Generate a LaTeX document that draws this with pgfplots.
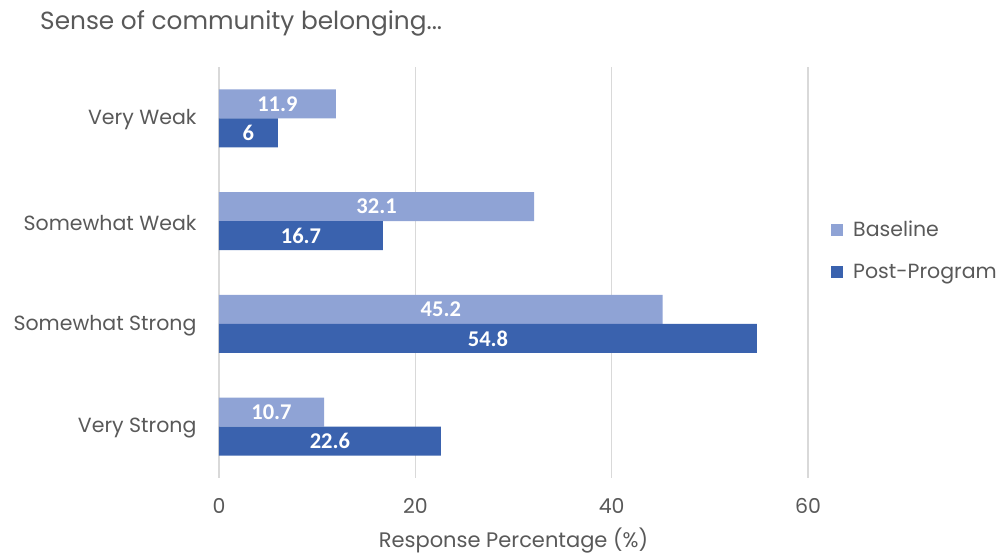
\documentclass[border=0pt]{standalone}
\usepackage{fontspec}
\setmainfont{Poppins}
\newfontfamily\labelfont{Carlito}
\usepackage{pgfplots}
\pgfplotsset{compat=1.18}
\definecolor{txt}{HTML}{595959}
\definecolor{gridc}{HTML}{D9D9D9}
\definecolor{base}{HTML}{8FA3D5}
\definecolor{post}{HTML}{3A62AE}
\begin{document}
\begin{tikzpicture}
\path[use as bounding box] (0pt,0pt) rectangle (999pt,556pt);
\node[anchor=west, text=txt, font=\fontsize{24.8}{28}\selectfont, inner sep=0pt] at (40pt,533pt) {Sense of community belonging...};
\begin{axis}[
  at={(219pt,78pt)}, anchor=south west,
  scale only axis, width=589pt, height=411pt,
  xmin=0, xmax=60, ymin=-0.5, ymax=3.5,
  xtick={0,20,40,60},
  ytick={0,1,2,3},
  yticklabels={Very Strong,Somewhat Strong,Somewhat Weak,Very Weak},
  axis line style={draw=none},
  major tick length=0pt,
  xmajorgrids, major grid style={gridc, line width=1.2pt},
  tick label style={text=txt, font=\fontsize{20.5}{24}\selectfont},
  /pgf/number format/assume math mode=true,
  xticklabel style={yshift=-17pt},
  yticklabel style={xshift=-19pt, yshift=-1.5pt},
  xlabel={Response Percentage (\%)},
  xlabel style={text=txt, font=\fontsize{21}{24}\selectfont, yshift=-7pt},
  bar width=0.282,
  point meta=x,
  visualization depends on=rawx \as \rawx,
  nodes near coords,
  legend style={at={(1,0.5)}, anchor=west, xshift=23pt, yshift=22pt, draw=none, fill=none, text=txt, font=\fontsize{20.5}{24}\selectfont, row sep=22pt, inner sep=0pt, /tikz/every odd column/.append style={column sep=8pt}},
  legend cell align=left,
  legend image code/.code={\fill[#1] (0pt,-6pt) rectangle (12pt,6pt);},
]
\addplot[xbar, bar shift=0.141, fill=base, draw=none,
  every node near coord/.append style={anchor=center, text=white, font=\labelfont\bfseries\fontsize{22.5}{25}\selectfont, shift={(axis direction cs:-\rawx/2,0.141)}}]
  coordinates {(10.7,0) (45.2,1) (32.1,2) (11.9,3)};
\addlegendentry{Baseline}
\addplot[xbar, bar shift=-0.141, fill=post, draw=none,
  every node near coord/.append style={anchor=center, text=white, font=\labelfont\bfseries\fontsize{22.5}{25}\selectfont, shift={(axis direction cs:-\rawx/2,-0.141)}}]
  coordinates {(22.6,0) (54.8,1) (16.7,2) (6,3)};
\addlegendentry{Post-Program}
\end{axis}
\end{tikzpicture}
\end{document}
